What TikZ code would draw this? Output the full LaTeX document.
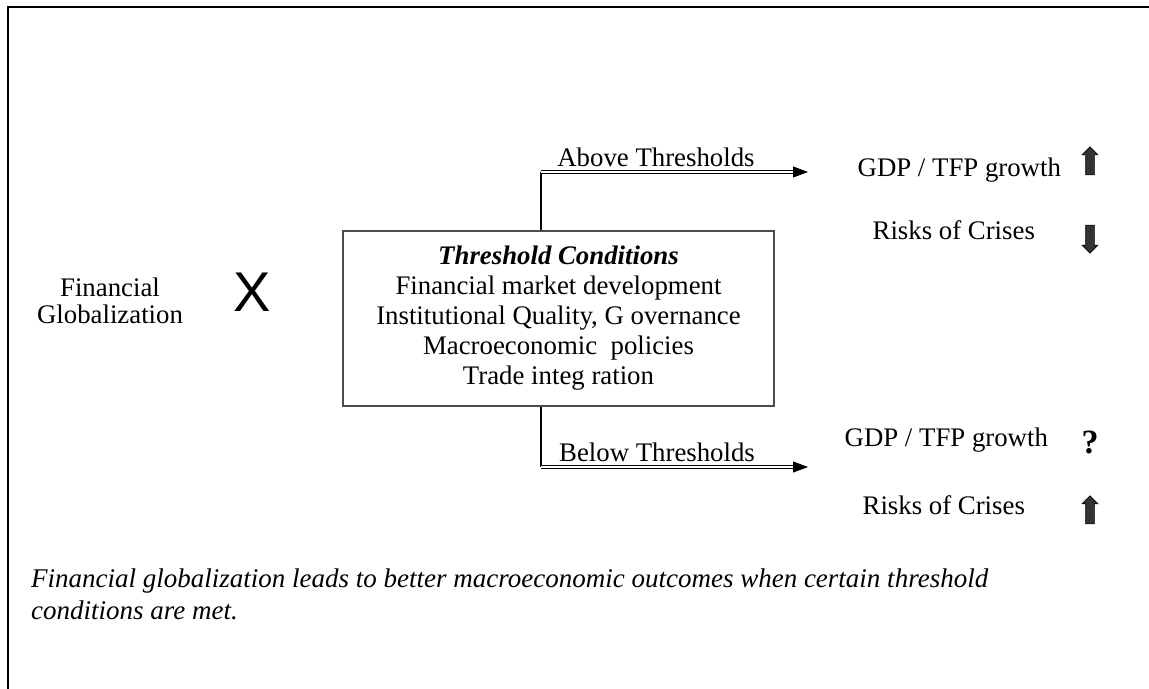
\documentclass[tikz,border=0pt]{standalone}
\usepackage{fontspec}
\setmainfont{Liberation Serif}
\newfontfamily\arialfont{Liberation Sans}
\usetikzlibrary{positioning, shapes.arrows, arrows.meta}

\begin{document}
\begin{tikzpicture}[
					x=0.5pt, y=-0.5pt,
					every node/.style={font=\fontsize{13.4}{15}\selectfont},
					condbox/.style={draw=black!70, line width=0.6pt, minimum width=215.5pt, minimum height=87.5pt, align=center},
					dblarrow/.style={double, double distance=0.9pt, line width=0.45pt, -{Triangle[length=7.5pt, width=5.5pt]}},
					trendarrow/.style={single arrow, draw=black, fill=black!80, line width=0.3pt, inner sep=2pt, minimum height=14pt, single arrow head extend=1.8pt}
					]
					\useasboundingbox (0,0) rectangle (1149,689);
					\draw[line width=0.75pt] (8,689) -- (8,7) -- (1149,7);
					\node[align=center, font=\fontsize{13.4}{13.5}\selectfont] (fg) at (110,301) {Financial\\Globalization};
					\node[font=\arialfont\fontsize{28}{30}\selectfont, inner sep=0pt] (times) at (252,292) {X};
					\node[condbox] (cond) at (558.5,318.5) {\textbf{\textit{Threshold Conditions}}\\
						Financial market development\\
						Institutional Quality, G overnance\\
						Macroeconomic~ policies\\
						Trade integ ration};
					\coordinate (abovebend) at (541,172);
					\coordinate (aboveend) at (808,172);
					\coordinate (belowbend) at (541,467);
					\coordinate (belowend) at (808,467);
					\draw[line width=0.6pt] (cond.north -| abovebend) -- (abovebend);
					\draw[dblarrow] (abovebend) -- (aboveend);
					\draw[line width=0.6pt] (cond.south -| belowbend) -- (belowbend);
					\draw[dblarrow] (belowbend) -- (belowend);
					\node (above) at (656,157) {Above Thresholds};
					\node (below) at (657,452) {Below Thresholds};
					\node[anchor=east] (gdphigh) at (1068,170) {GDP / TFP growth};
					\node[anchor=east] (riskhigh) at (1042,230) {Risks of Crises};
					\node[anchor=east] (gdplow) at (1055,440) {GDP / TFP growth};
					\node[anchor=east] (risklow) at (1032,505) {Risks of Crises};
					\node[trendarrow, rotate=90] (gdpup) at (1090,163) {};
					\node[trendarrow, rotate=-90] (riskdown) at (1090,237) {};
					\node[font=\fontsize{17}{20}\selectfont\bfseries] (unknown) at (1090,442) {?};
					\node[trendarrow, rotate=90] (riskup) at (1090,512) {};
					\node[anchor=west, align=left, font=\fontsize{13.5}{16}\selectfont\itshape] (note) at (24,594)
					{Financial globalization leads to better macroeconomic outcomes when certain threshold\\conditions are met.};
				\end{tikzpicture}
\end{document}
